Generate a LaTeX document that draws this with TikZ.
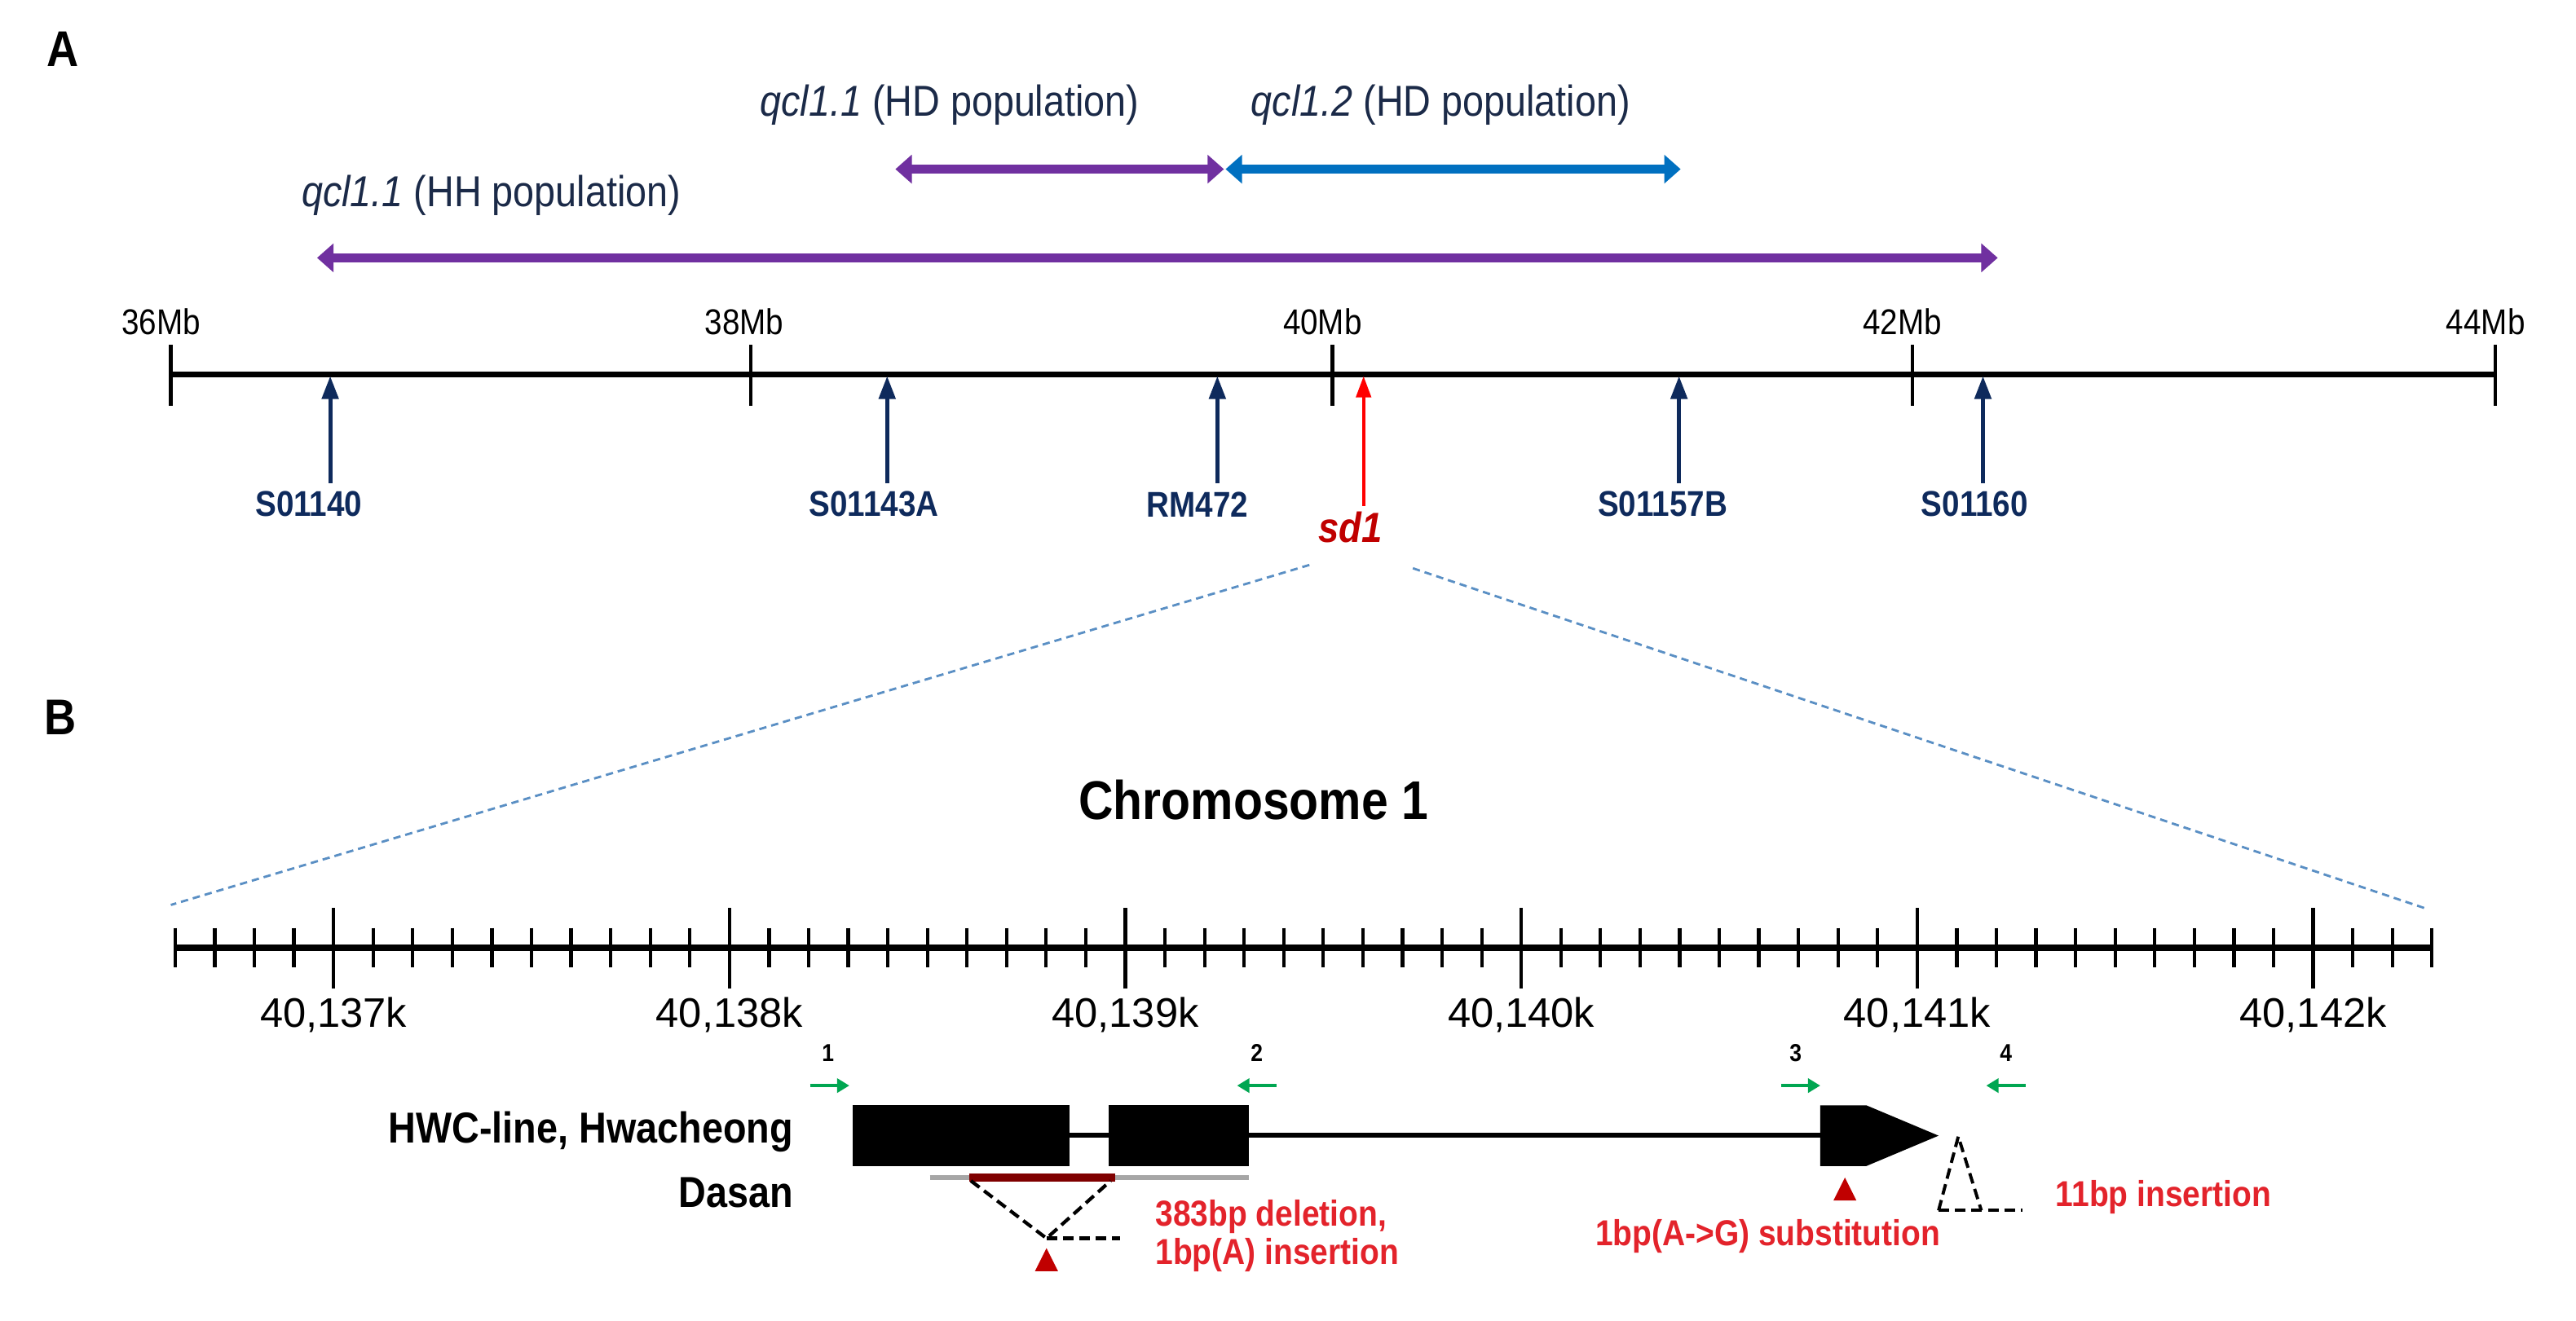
\documentclass[tikz,border=0pt]{standalone}
\usepackage{fontspec}
\setmainfont{Liberation Sans}
\newfontfamily\cf{Liberation Sans}[FakeStretch=0.88]
\usetikzlibrary{arrows.meta}
\definecolor{purp}{HTML}{7030A0}
\definecolor{blu}{HTML}{0070C0}
\definecolor{navy}{HTML}{0E2A5C}
\definecolor{txtnavy}{HTML}{1B2A48}
\definecolor{sdred}{HTML}{C00000}
\definecolor{brightred}{HTML}{FF0000}
\definecolor{zoomblue}{HTML}{5A8FC4}
\definecolor{primer}{HTML}{00A651}
\definecolor{mutred}{HTML}{E3232B}
\definecolor{delred}{HTML}{7F0000}
\definecolor{graybar}{HTML}{A6A6A6}
\tikzset{
  every node/.style={inner sep=0pt},
  qtlarrow/.style={line width=2.9pt,{Triangle[length=0.2cm,width=0.34cm]}-{Triangle[length=0.2cm,width=0.34cm]}},
  axisline/.style={line width=2.2pt},
  tickline/.style={line width=1.2pt},
  mkarrow/.style={line width=1.4pt,navy,-{Triangle[length=0.28cm,width=0.2cm]}},
  sdarrow/.style={line width=1.2pt,brightred,-{Triangle[length=0.26cm,width=0.18cm]}},
  zoomline/.style={zoomblue,line width=0.8pt,dash pattern=on 0.09cm off 0.06cm},
  primerarrow/.style={primer,line width=1.1pt,-{Triangle[length=0.15cm,width=0.17cm]}},
  exonbox/.style={fill=black,draw=none},
  intron/.style={line width=1.7pt},
  blackdash/.style={line width=1.2pt,dash pattern=on 0.13cm off 0.07cm},
  panel/.style={font=\cf\bfseries\fontsize{17.4}{20}\selectfont},
  qtltxt/.style={font=\cf\fontsize{15}{18}\selectfont,text=txtnavy},
  mblbl/.style={font=\cf\fontsize{12.4}{14}\selectfont},
  mklbl/.style={font=\cf\bfseries\fontsize{12.4}{14}\selectfont,text=navy},
  sdlbl/.style={font=\cf\bfseries\itshape\fontsize{14.6}{16}\selectfont,text=sdred},
  chromlbl/.style={font=\cf\bfseries\fontsize{18.9}{22}\selectfont},
  klbl/.style={font=\fontsize{14.3}{16}\selectfont},
  strain/.style={font=\cf\bfseries\fontsize{15}{18}\selectfont,anchor=east},
  mutlbl/.style={font=\cf\bfseries\fontsize{12.5}{15}\selectfont,text=mutred},
  pnum/.style={font=\cf\bfseries\fontsize{8.5}{10}\selectfont},
}
\begin{document}
\begin{tikzpicture}[x=0.02cm,y=-0.02cm]
\useasboundingbox[fill=white] (0,0) rectangle (1568,804);

% ---------- Panel A ----------
\node[panel] (pA) at (38,30) {A};
\node[qtltxt] (q11hd) at (578,64) {{\itshape qcl1.1} (HD population)};
\node[qtltxt] (q12hd) at (877,64) {{\itshape qcl1.2} (HD population)};
\node[qtltxt] (q11hh) at (299,119) {{\itshape qcl1.1} (HH population)};

\coordinate (hd1a) at (545,103); \coordinate (hd1b) at (745,103);
\coordinate (hd2a) at (746,103); \coordinate (hd2b) at (1023,103);
\coordinate (hha) at (193,157); \coordinate (hhb) at (1216,157);
\draw[qtlarrow,purp] (hd1a) -- (hd1b);
\draw[qtlarrow,blu] (hd2a) -- (hd2b);
\draw[qtlarrow,purp] (hha) -- (hhb);

\coordinate (axA0) at (104,228); \coordinate (axA1) at (1519,228);
\draw[axisline] (axA0) -- (axA1);
\foreach \xx/\lx/\lab in {104/98/36Mb,457/453/38Mb,811/805/40Mb,1164/1158/42Mb,1519/1513/44Mb}{
  \coordinate (tt\lab) at (\xx,210);
  \coordinate (tb\lab) at (\xx,247);
  \draw[tickline] (tt\lab) -- (tb\lab);
  \node[mblbl] (l\lab) at (\lx,196) {\lab};
}

\foreach \xx/\lx/\lab in {201/188/S01140,540/532/S01143A,741/729/RM472,1022/1012/S01157B,1207/1202/S01160}{
  \coordinate (mb\lab) at (\xx,294);
  \coordinate (mt\lab) at (\xx,229);
  \draw[mkarrow] (mb\lab) -- (mt\lab);
  \node[mklbl] (ml\lab) at (\lx,307) {\lab};
}
\coordinate (sdb) at (830,308); \coordinate (sdt) at (830,229);
\draw[sdarrow] (sdb) -- (sdt);
\node[sdlbl] (sd1) at (822,321) {sd1};

% zoom lines
\coordinate (zl0) at (797,344); \coordinate (zl1) at (104,551);
\coordinate (zr0) at (860,346); \coordinate (zr1) at (1476,553);
\draw[zoomline] (zl0) -- (zl1);
\draw[zoomline] (zr0) -- (zr1);

% ---------- Panel B ----------
\node[panel] (pB) at (37,437) {B};
\node[chromlbl] (chrom) at (763,487) {Chromosome 1};

\coordinate (axB0) at (106.6,577); \coordinate (axB1) at (1480.3,577);
\draw[axisline] (axB0) -- (axB1);
\foreach \i in {0,...,57}{
  \pgfmathtruncatemacro\m{mod(\i+6,10)}
  \ifnum\m=0
    \draw[tickline] ({106.6+24.1*\i},553) -- ({106.6+24.1*\i},602);
  \else
    \draw[tickline] ({106.6+24.1*\i},565) -- ({106.6+24.1*\i},589);
  \fi
}
\foreach \k [count=\j from 0] in {137,...,142}{
  \node[klbl] (k\k) at ({203+241*\j},618) {40,\k k};
}

% primers
\node[pnum] (p1) at (504,641) {1};
\node[pnum] (p2) at (765,641) {2};
\node[pnum] (p3) at (1093,641) {3};
\node[pnum] (p4) at (1221,641) {4};
\coordinate (pa1s) at (493,661); \coordinate (pa1e) at (517,661);
\coordinate (pa2s) at (777,661); \coordinate (pa2e) at (753,661);
\coordinate (pa3s) at (1084,661); \coordinate (pa3e) at (1108,661);
\coordinate (pa4s) at (1233,661); \coordinate (pa4e) at (1209,661);
\draw[primerarrow] (pa1s) -- (pa1e);
\draw[primerarrow] (pa2s) -- (pa2e);
\draw[primerarrow] (pa3s) -- (pa3e);
\draw[primerarrow] (pa4s) -- (pa4e);

% gene model
\coordinate (i1a) at (651,691); \coordinate (i1b) at (675,691);
\coordinate (i2a) at (760,691); \coordinate (i2b) at (1108,691);
\draw[intron] (i1a) -- (i1b);
\draw[intron] (i2a) -- (i2b);
\fill[exonbox] (519,673) rectangle (651,710);
\fill[exonbox] (675,673) rectangle (760,710);
\fill[exonbox] (1108,673) -- (1136,673) -- (1180,691.5) -- (1136,710) -- (1108,710) -- cycle;

\node[strain] (hwc) at (483,689) {HWC-line, Hwacheong};
\node[strain] (dasan) at (483,726) {Dasan};

% deletion
\coordinate (g0) at (566,717); \coordinate (g1) at (760,717);
\draw[graybar,line width=1.5pt] (g0) -- (g1);
\coordinate (d0) at (590,717); \coordinate (d1) at (679,717);
\draw[delred,line width=3pt] (d0) -- (d1);
\coordinate (dv) at (637,754); \coordinate (dh) at (682,754);
\draw[blackdash] (591,719) -- (dv) -- (676,719);
\draw[blackdash] (dv) -- (dh);
\fill[sdred] (630,774) -- (644,774) -- (637,760) -- cycle;
\node[mutlbl,anchor=west] (del1) at (703,741) {383bp deletion,};
\node[mutlbl,anchor=west] (del2) at (703,764) {1bp(A) insertion};

% substitution
\fill[sdred] (1116,731) -- (1130,731) -- (1123,717) -- cycle;
\node[mutlbl] (subst) at (1076,753) {1bp(A->G) substitution};

% insertion
\coordinate (ins0) at (1192,692); \coordinate (insl) at (1180,737);
\coordinate (insr) at (1206,737); \coordinate (inse) at (1231,737);
\draw[blackdash,line width=1.1pt] (insl) -- (ins0) -- (insr);
\draw[blackdash,line width=1.1pt] (insl) -- (inse);
\node[mutlbl,anchor=west] (ins) at (1251,729) {11bp insertion};
\end{tikzpicture}
\end{document}
